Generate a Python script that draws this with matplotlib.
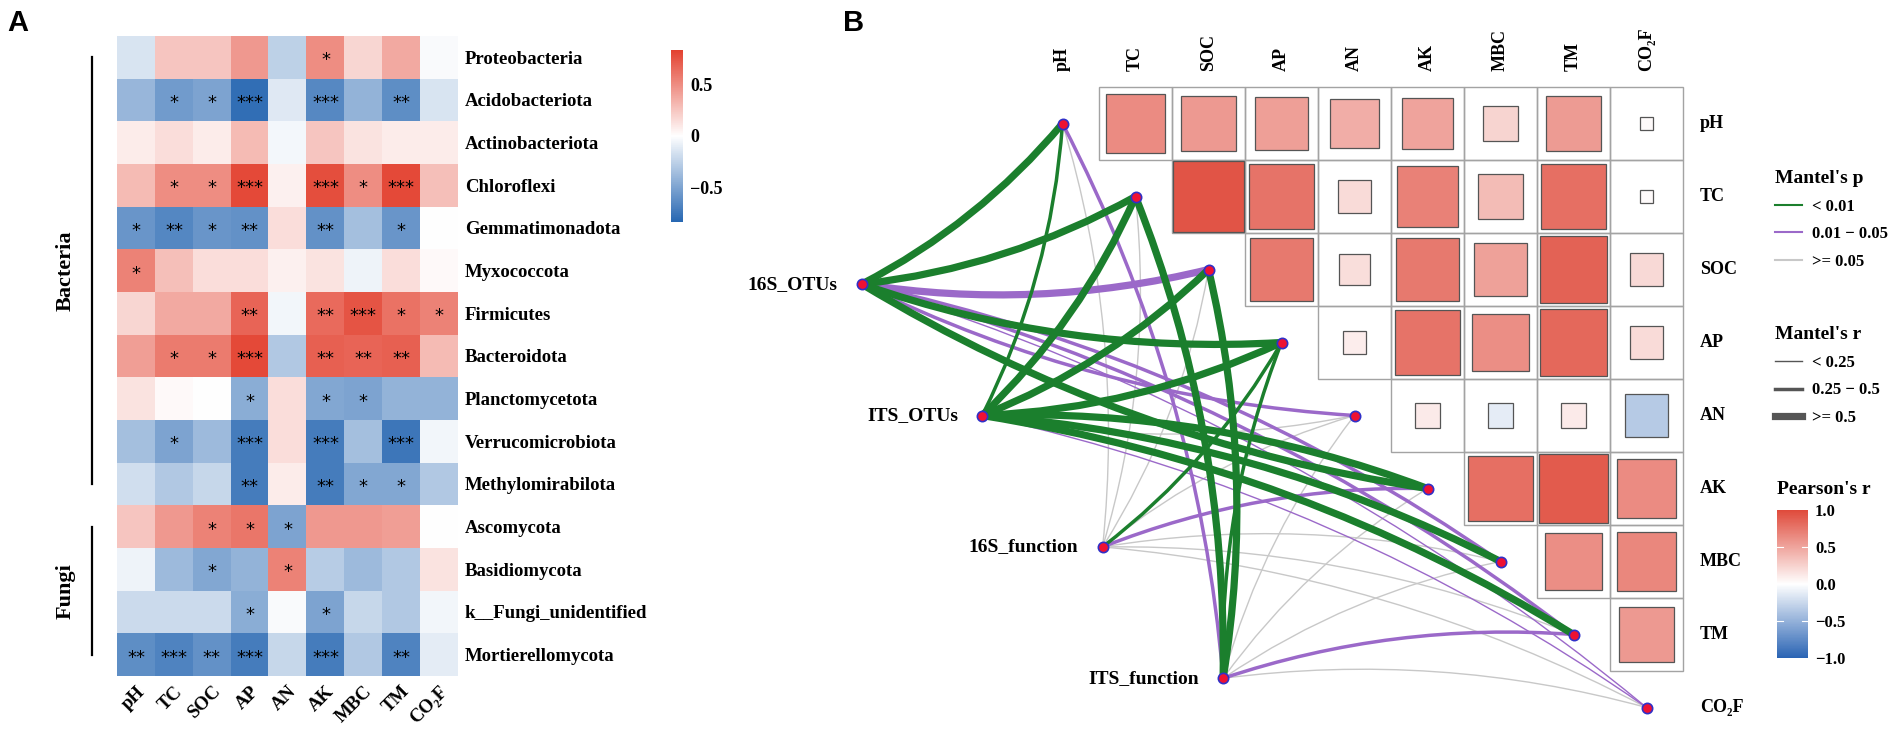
import numpy as np
import matplotlib.pyplot as plt
from matplotlib.colors import LinearSegmentedColormap, Normalize
from matplotlib.patches import Rectangle, PathPatch
from matplotlib.path import Path
from matplotlib.lines import Line2D

plt.rcParams['font.family'] = ['Liberation Serif', 'DejaVu Serif']
plt.rcParams['font.weight'] = 'bold'

W, H = 1903, 737

# ---------------- data: panel A ----------------
taxa = ['Proteobacteria', 'Acidobacteriota', 'Actinobacteriota', 'Chloroflexi',
        'Gemmatimonadota', 'Myxococcota', 'Firmicutes', 'Bacteroidota',
        'Planctomycetota', 'Verrucomicrobiota', 'Methylomirabilota',
        'Ascomycota', 'Basidiomycota', 'k__Fungi_unidentified', 'Mortierellomycota']
env_vars = ['pH', 'TC', 'SOC', 'AP', 'AN', 'AK', 'MBC', 'TM', 'CO\u2082F']
groups = ['Bacteria', 'Fungi']
group_sizes = [11, 4]

taxa_r = [
    [-0.15, 0.25, 0.25, 0.45, -0.25, 0.50, 0.18, 0.38, -0.02],
    [-0.40, -0.55, -0.50, -0.80, -0.12, -0.65, -0.42, -0.62, -0.15],
    [0.08, 0.15, 0.08, 0.30, -0.04, 0.25, 0.12, 0.08, 0.08],
    [0.30, 0.50, 0.50, 0.80, 0.06, 0.78, 0.50, 0.80, 0.28],
    [-0.58, -0.66, -0.58, -0.60, 0.15, -0.60, -0.35, -0.58, 0.00],
    [0.55, 0.28, 0.15, 0.15, 0.06, 0.12, -0.06, 0.15, 0.02],
    [0.18, 0.38, 0.38, 0.68, -0.05, 0.65, 0.75, 0.62, 0.55],
    [0.42, 0.58, 0.58, 0.80, -0.30, 0.70, 0.68, 0.70, 0.30],
    [0.12, 0.02, 0.00, -0.45, 0.15, -0.48, -0.50, -0.42, -0.42],
    [-0.35, -0.50, -0.38, -0.72, 0.15, -0.72, -0.35, -0.75, -0.05],
    [-0.18, -0.30, -0.22, -0.72, 0.08, -0.72, -0.48, -0.48, -0.30],
    [0.25, 0.45, 0.55, 0.60, -0.50, 0.45, 0.45, 0.42, 0.00],
    [-0.06, -0.38, -0.48, -0.42, 0.55, -0.28, -0.38, -0.30, 0.12],
    [-0.20, -0.20, -0.20, -0.45, -0.02, -0.50, -0.22, -0.30, -0.05],
    [-0.62, -0.68, -0.60, -0.72, -0.22, -0.72, -0.30, -0.68, -0.10],
]

taxa_sig = [
    ['', '', '', '', '', '*', '', '', ''],
    ['', '*', '*', '***', '', '***', '', '**', ''],
    ['', '', '', '', '', '', '', '', ''],
    ['', '*', '*', '***', '', '***', '*', '***', ''],
    ['*', '**', '*', '**', '', '**', '', '*', ''],
    ['*', '', '', '', '', '', '', '', ''],
    ['', '', '', '**', '', '**', '***', '*', '*'],
    ['', '*', '*', '***', '', '**', '**', '**', ''],
    ['', '', '', '*', '', '*', '*', '', ''],
    ['', '*', '', '***', '', '***', '', '***', ''],
    ['', '', '', '**', '', '**', '*', '*', ''],
    ['', '', '*', '*', '*', '', '', '', ''],
    ['', '', '*', '', '*', '', '', '', ''],
    ['', '', '', '*', '', '*', '', '', ''],
    ['**', '***', '**', '***', '', '***', '', '**', ''],
]

# ---------------- data: panel B ----------------
# upper triangle of Pearson's r between environmental factors (row i vs columns i+1..)
env_r = [
    [0.64, 0.56, 0.53, 0.45, 0.50, 0.24, 0.55, 0.03],
    [0.94, 0.77, 0.20, 0.69, 0.37, 0.79, 0.03],
    [0.74, 0.18, 0.74, 0.52, 0.86, 0.21],
    [0.10, 0.77, 0.62, 0.83, 0.20],
    [0.11, -0.12, 0.11, -0.34],
    [0.79, 0.90, 0.64],
    [0.62, 0.66],
    [0.56],
]

species = ['16S_OTUs', 'ITS_OTUs', '16S_function', 'ITS_function']
mantel_r = [
    [0.62, 0.60, 0.55, 0.58, 0.35, 0.55, 0.32, 0.30, 0.18],
    [0.40, 0.58, 0.60, 0.56, 0.12, 0.60, 0.55, 0.57, 0.15],
    [0.10, 0.12, 0.10, 0.35, 0.08, 0.30, 0.10, 0.12, 0.08],
    [0.30, 0.62, 0.60, 0.38, 0.10, 0.12, 0.10, 0.32, 0.10],
]
mantel_p = [
    [0.001, 0.001, 0.02, 0.001, 0.02, 0.001, 0.02, 0.02, 0.02],
    [0.001, 0.001, 0.001, 0.001, 0.20, 0.001, 0.001, 0.001, 0.03],
    [0.30, 0.20, 0.15, 0.005, 0.40, 0.03, 0.25, 0.30, 0.50],
    [0.02, 0.001, 0.001, 0.005, 0.35, 0.15, 0.20, 0.03, 0.60],
]

p_labels = ['< 0.01', '0.01 \u2212 0.05', '>= 0.05']
p_colors = ['#1b7f2d', '#9b69c9', '#c8c8c8']
r_labels = ['< 0.25', '0.25 \u2212 0.5', '>= 0.5']
r_widths = [1.0, 2.5, 5.2]


def rect(x0, y0, x1, y1):
    # pixel box (top-left origin) -> figure fraction
    return [x0 / W, 1 - y1 / H, (x1 - x0) / W, (y1 - y0) / H]


fig = plt.figure(figsize=(W / 100, H / 100), dpi=100)

# ================= Panel A: heatmap =================
cmap_a = LinearSegmentedColormap.from_list('rb_a', ['#2767b2', '#ffffff', '#e3412f'])
ax = fig.add_axes(rect(74, 36, 458, 676))
im = ax.imshow(np.array(taxa_r), cmap=cmap_a, vmin=-0.84, vmax=0.84, aspect='auto')
for i in range(len(taxa)):
    for j in range(len(env_vars)):
        if taxa_sig[i][j]:
            ax.text(j, i + 0.07, taxa_sig[i][j], ha='center', va='center',
                    fontsize=13, family='DejaVu Sans', fontweight='normal')

for s in ax.spines.values():
    s.set_visible(False)
ax.yaxis.tick_right()
ax.set_yticks(range(len(taxa)))
ax.set_yticklabels(taxa, fontsize=13.5)
ax.set_xticks(range(len(env_vars)))
ax.set_xticklabels(env_vars, fontsize=13.5, rotation=45, ha='right', va='top',
                   rotation_mode='anchor')
ax.tick_params(axis='y', length=0, pad=5)
ax.tick_params(axis='x', length=0, pad=5)

# group brackets
start = 0
for g, n in zip(groups, group_sizes):
    ax.plot([-1.16, -1.16], [start, start + n - 1], color='black', lw=1.6, clip_on=False)
    ax.text(-1.86, start + (n - 1) / 2, g, rotation=90, ha='center', va='center', fontsize=16)
    start += n

cax_a = fig.add_axes(rect(671, 50, 683, 222))
cb_a = fig.colorbar(im, cax=cax_a, ticks=[-0.5, 0, 0.5])
cb_a.outline.set_visible(False)
cb_a.ax.set_yticklabels(['\u22120.5', '0', '0.5'])
cax_a.tick_params(length=0, labelsize=13, pad=5)

fig.text(7 / W, 1 - 9 / H, 'A', family='Liberation Sans', fontsize=21, ha='left', va='top')

# ================= Panel B: correlogram + Mantel links =================
cmap_b = LinearSegmentedColormap.from_list('rb_b', ['#2a64b4', '#ffffff', '#df4a3b'])
norm_b = Normalize(-1, 1)
n_env = len(env_vars)

axb = fig.add_axes(rect(734, 14, 1719.5, 736.7))
axb.set_xlim(-4.5, 9.0)
axb.set_ylim(8.4, -1.5)
axb.axis('off')

for i in range(n_env):
    for j in range(i + 1, n_env):
        axb.add_patch(Rectangle((j - 0.5, i - 0.5), 1, 1, fill=False, ec='#a3a3a3', lw=1.0, zorder=2))
        r = env_r[i][j - i - 1]
        side = np.sqrt(abs(r))
        axb.add_patch(Rectangle((j - side / 2, i - side / 2), side, side,
                                fc=cmap_b(norm_b(r)), ec='#555555', lw=0.9, zorder=3))

for k, name in enumerate(env_vars):
    axb.text(k, -0.72, name, rotation=90, ha='center', va='bottom', fontsize=13)
    axb.text(8.73, k, name, ha='left', va='center', fontsize=13)

# node layout
sp_x = [-2.75 + 1.65 * k for k in range(len(species))]
sp_y = [2.2 + 1.8 * k for k in range(len(species))]
env_x = list(range(n_env))
env_y = list(range(n_env))
cx = np.mean(sp_x + env_x)
cy = np.mean(sp_y + env_y)

edges = []
for s in range(len(species)):
    for e in range(n_env):
        p = mantel_p[s][e]
        r = mantel_r[s][e]
        pc = 0 if p < 0.01 else (1 if p < 0.05 else 2)
        rc = 0 if r < 0.25 else (1 if r < 0.5 else 2)
        edges.append((2 - pc, s, e, pc, rc))
edges.sort()

for _, s, e, pc, rc in edges:
    x0, y0 = sp_x[s], sp_y[s]
    x1, y1 = env_x[e], env_y[e]
    dx, dy = x1 - x0, y1 - y0
    mx, my = (x0 + x1) / 2, (y0 + y1) / 2
    px, py = -dy, dx
    if px * (cx - mx) + py * (cy - my) < 0:
        px, py = -px, -py
    ctrl = (mx + 0.1 * px, my + 0.1 * py)
    path = Path([(x0, y0), ctrl, (x1, y1)], [Path.MOVETO, Path.CURVE3, Path.CURVE3])
    axb.add_patch(PathPatch(path, fill=False, ec=p_colors[pc], lw=r_widths[rc],
                            capstyle='butt', zorder=4))

axb.scatter(sp_x + env_x, sp_y + env_y, s=55, c='#ee1133', edgecolors='#3030c8',
            linewidths=1.2, zorder=10)
for k, name in enumerate(species):
    axb.text(sp_x[k] - 0.33, sp_y[k], name, ha='right', va='center', fontsize=14)

fig.text(843 / W, 1 - 9 / H, 'B', family='Liberation Sans', fontsize=21, ha='left', va='top')

# legends
h_p = [Line2D([], [], color=c, lw=1.5) for c in p_colors]
leg1 = fig.legend(h_p, p_labels, title="Mantel's p", loc='upper left',
                  bbox_to_anchor=(1775 / W, 1 - 170 / H), frameon=False, alignment='left',
                  fontsize=12, title_fontproperties={'size': 14, 'weight': 'bold'},
                  handlelength=1.6, handletextpad=0.6, labelspacing=0.7,
                  borderpad=0, borderaxespad=0)
h_r = [Line2D([], [], color='#555555', lw=w) for w in r_widths]
leg2 = fig.legend(h_r, r_labels, title="Mantel's r", loc='upper left',
                  bbox_to_anchor=(1775 / W, 1 - 326 / H), frameon=False, alignment='left',
                  fontsize=12, title_fontproperties={'size': 14, 'weight': 'bold'},
                  handlelength=1.6, handletextpad=0.6, labelspacing=0.7,
                  borderpad=0, borderaxespad=0)

fig.text(1777 / W, 1 - 490 / H, "Pearson's r", fontsize=14, ha='left', va='center')
cax_b = fig.add_axes(rect(1777, 510, 1808, 658))
sm = plt.cm.ScalarMappable(norm=norm_b, cmap=cmap_b)
cb_b = fig.colorbar(sm, cax=cax_b, ticks=[-1, -0.5, 0, 0.5, 1])
cb_b.outline.set_visible(False)
cb_b.ax.set_yticklabels(['\u22121.0', '\u22120.5', '0.0', '0.5', '1.0'])
cax_b.tick_params(length=0, labelsize=12, pad=5)
for v in [-0.5, 0.5]:
    cax_b.axhline(v, 0, 0.18, color='white', lw=0.8)
    cax_b.axhline(v, 0.82, 1, color='white', lw=0.8)

fig.savefig('out.png', dpi=100)
